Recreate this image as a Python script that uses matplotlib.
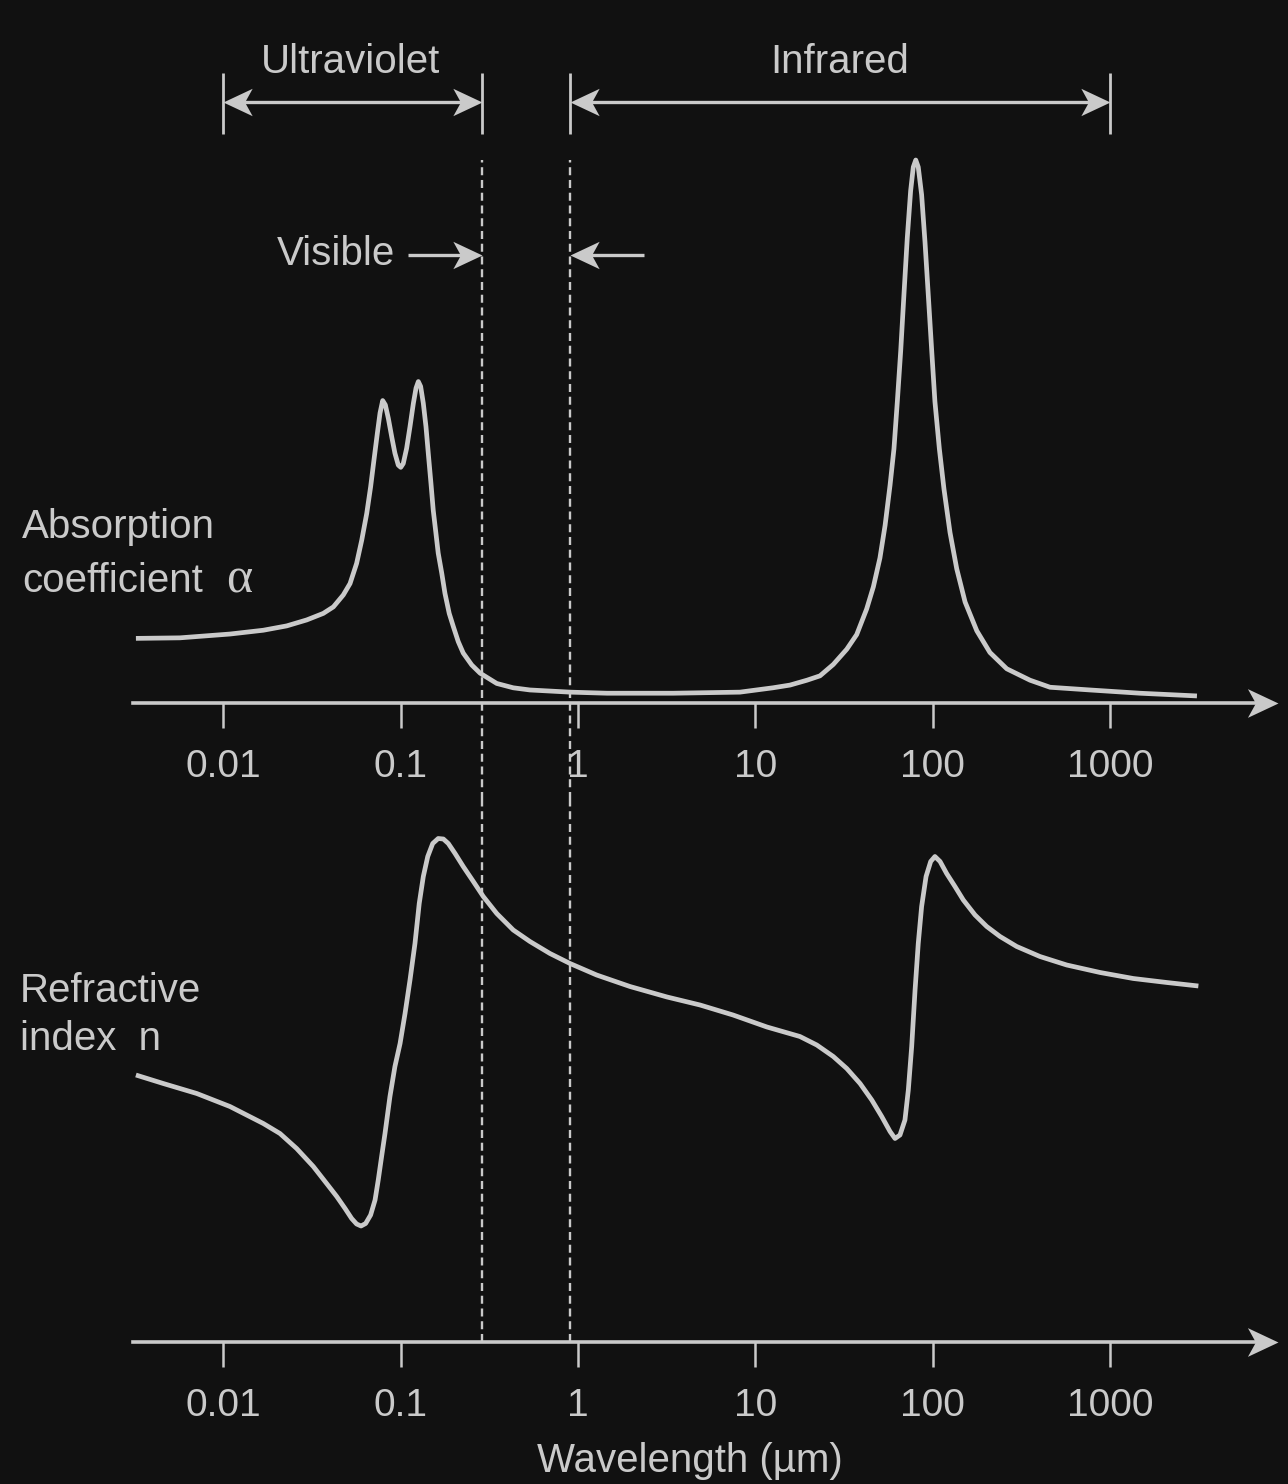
import matplotlib
matplotlib.use("Agg")
import numpy as np
import matplotlib.pyplot as plt
from matplotlib.path import Path
from matplotlib.ticker import FixedLocator, FixedFormatter, NullLocator

# absorption coefficient alpha (arbitrary units) vs log10(wavelength / um)
alpha_log_wavelength = [
    -2.492, -2.244, -1.962, -1.774, -1.642, -1.529, -1.436, -1.379, -1.323, -1.285,
    -1.248, -1.219, -1.191, -1.169, -1.150, -1.131, -1.116, -1.101, -1.086, -1.069,
    -1.050, -1.032, -1.013, -0.999, -0.985, -0.966, -0.947, -0.928, -0.913, -0.900,
    -0.887, -0.872, -0.857, -0.844, -0.829, -0.816, -0.801, -0.788, -0.768, -0.750,
    -0.726, -0.703, -0.675, -0.647, -0.599, -0.552, -0.458, -0.365, -0.271, -0.045,
    0.164, 0.536, 0.913, 1.099, 1.195, 1.291, 1.364, 1.439, 1.515, 1.571,
    1.627, 1.665, 1.702, 1.731, 1.759, 1.781, 1.800, 1.819, 1.838, 1.856,
    1.875, 1.890, 1.904, 1.918, 1.937, 1.956, 1.975, 1.994, 2.012, 2.037,
    2.063, 2.097, 2.135, 2.182, 2.248, 2.322, 2.417, 2.548, 2.661, 2.886,
    3.168, 3.489]
alpha_value = [
    0.119, 0.120, 0.127, 0.134, 0.142, 0.153, 0.165, 0.177, 0.199, 0.220,
    0.257, 0.300, 0.349, 0.398, 0.448, 0.497, 0.534, 0.557, 0.549, 0.524,
    0.490, 0.460, 0.438, 0.434, 0.441, 0.469, 0.509, 0.552, 0.580, 0.592,
    0.583, 0.552, 0.509, 0.460, 0.405, 0.355, 0.313, 0.276, 0.239, 0.202,
    0.165, 0.141, 0.113, 0.092, 0.070, 0.055, 0.036, 0.028, 0.024, 0.020,
    0.018, 0.018, 0.020, 0.028, 0.033, 0.042, 0.050, 0.071, 0.099, 0.126,
    0.173, 0.214, 0.267, 0.327, 0.401, 0.468, 0.555, 0.648, 0.756, 0.856,
    0.943, 0.987, 1.000, 0.987, 0.936, 0.849, 0.749, 0.648, 0.555, 0.468,
    0.394, 0.314, 0.247, 0.186, 0.133, 0.093, 0.063, 0.042, 0.029, 0.024,
    0.018, 0.013]

# refractive index n (arbitrary units) vs log10(wavelength / um)
n_log_wavelength = [
    -2.492, -2.338, -2.149, -1.962, -1.774, -1.680, -1.586, -1.492, -1.417, -1.360,
    -1.313, -1.276, -1.248, -1.223, -1.197, -1.169, -1.144, -1.126, -1.107, -1.088,
    -1.060, -1.032, -1.003, -0.975, -0.947, -0.919, -0.895, -0.872, -0.847, -0.819,
    -0.788, -0.759, -0.731, -0.693, -0.647, -0.590, -0.534, -0.458, -0.365, -0.271,
    -0.158, -0.045, 0.105, 0.293, 0.502, 0.688, 0.874, 1.065, 1.251, 1.346,
    1.439, 1.515, 1.590, 1.656, 1.712, 1.759, 1.787, 1.815, 1.843, 1.862,
    1.881, 1.900, 1.918, 1.937, 1.962, 1.988, 2.012, 2.041, 2.078, 2.125,
    2.172, 2.238, 2.304, 2.379, 2.473, 2.604, 2.755, 2.943, 3.130, 3.319,
    3.497]
n_value = [
    0.534, 0.517, 0.497, 0.471, 0.437, 0.417, 0.387, 0.351, 0.317, 0.291,
    0.267, 0.247, 0.236, 0.232, 0.237, 0.254, 0.284, 0.324, 0.371, 0.417,
    0.491, 0.551, 0.597, 0.657, 0.724, 0.797, 0.877, 0.931, 0.971, 0.997,
    1.007, 1.006, 0.997, 0.977, 0.951, 0.921, 0.891, 0.857, 0.824, 0.801,
    0.777, 0.757, 0.734, 0.711, 0.690, 0.674, 0.654, 0.630, 0.611, 0.594,
    0.571, 0.547, 0.517, 0.484, 0.451, 0.421, 0.407, 0.414, 0.444, 0.504,
    0.591, 0.704, 0.797, 0.871, 0.931, 0.961, 0.971, 0.961, 0.937, 0.911,
    0.884, 0.854, 0.831, 0.811, 0.791, 0.771, 0.754, 0.739, 0.727, 0.719,
    0.712]

tick_values = [0.01, 0.1, 1, 10, 100, 1000]
tick_labels = ["0.01", "0.1", "1", "10", "100", "1000"]

uv_range = (0.01, 0.287)
ir_range = (0.90, 1000)
visible_edges = (0.287, 0.90)

BG = "#111111"
FG = "#cacaca"
W, H = 1288, 1484
DECADE = 177.4    # pixels per decade
X_ONE = 578       # pixel column of 1 um

plt.rcParams["font.family"] = ["Liberation Sans", "DejaVu Sans"]


def lam(px):
    # pixel column -> wavelength
    return 10 ** ((px - X_ONE) / DECADE)


def shift(w, px):
    return w * 10 ** (px / DECADE)


HEAD_R = Path([(0, 0), (-1, 0.47), (-0.74, 0), (-1, -0.47), (0, 0)],
              [Path.MOVETO, Path.LINETO, Path.LINETO, Path.LINETO, Path.CLOSEPOLY])
HEAD_L = Path([(0, 0), (1, 0.47), (0.74, 0), (1, -0.47), (0, 0)],
              [Path.MOVETO, Path.LINETO, Path.LINETO, Path.LINETO, Path.CLOSEPOLY])


def head(ax, x, y, right=True, ms=42):
    ax.plot([x], [y], marker=HEAD_R if right else HEAD_L, ms=ms, color=FG,
            mew=0, clip_on=False, zorder=6)


def setup(ax, ylo, yhi):
    ax.set_facecolor("none")
    ax.set_xscale("log")
    ax.set_xlim(lam(0), lam(W))
    ax.set_ylim(ylo, yhi)
    for s in ["top", "right", "left"]:
        ax.spines[s].set_visible(False)
    ax.yaxis.set_visible(False)
    sp = ax.spines["bottom"]
    sp.set_position(("data", 0))
    sp.set_bounds(lam(133), lam(1262))
    sp.set_color(FG)
    sp.set_linewidth(2.6)
    ax.xaxis.set_major_locator(FixedLocator(tick_values))
    ax.xaxis.set_major_formatter(FixedFormatter(tick_labels))
    ax.xaxis.set_minor_locator(NullLocator())
    ax.tick_params(axis="x", direction="out", length=18, width=1.8, color=FG,
                   labelcolor=FG, labelsize=28, pad=15)
    head(ax, lam(1278), 0, right=True, ms=44)


fig = plt.figure(figsize=(W / 100, H / 100), dpi=100, facecolor=BG)

# top panel: pixel rows 0..800, alpha baseline at row 703, 543 px per unit
ax1 = fig.add_axes([0, 684 / H, 1, 800 / H])
setup(ax1, (703 - 800) / 543, 703 / 543)
# bottom panel: pixel rows 800..1484, n baseline at row 1342, 500 px per unit
ax2 = fig.add_axes([0, 0, 1, 684 / H])
setup(ax2, (1342 - 1484) / 500, (1342 - 800) / 500)

ax1.plot(10 ** np.array(alpha_log_wavelength), alpha_value, color=FG, lw=3.4,
         solid_joinstyle="round", solid_capstyle="butt", zorder=4)
ax2.plot(10 ** np.array(n_log_wavelength), n_value, color=FG, lw=3.4,
         solid_joinstyle="round", solid_capstyle="butt", zorder=4)

# visible band: dashed lines through both panels
dash = (0, (3.4, 2.0))
ax1.vlines(visible_edges, (703 - 800) / 543, 1.0, colors=FG, lw=1.7,
           linestyles=[dash], zorder=3)
ax2.vlines(visible_edges, 0, (1342 - 800) / 500, colors=FG, lw=1.7,
           linestyles=[dash], zorder=3)

# range arrows (Ultraviolet / Infrared)
y_rng = (703 - 102) / 543
bar_lo, bar_hi = (703 - 134) / 543, (703 - 73) / 543
for lo, hi in (uv_range, ir_range):
    ax1.plot([shift(lo, 10), shift(hi, -10)], [y_rng, y_rng], color=FG, lw=2.4,
             solid_capstyle="butt", clip_on=False)
    ax1.vlines([lo, hi], bar_lo, bar_hi, colors=FG, lw=2.0)
    head(ax1, lo, y_rng, right=False)
    head(ax1, hi, y_rng, right=True)

# visible arrows
y_vis = (703 - 255) / 543
ax1.plot([lam(408), shift(visible_edges[0], -10)], [y_vis, y_vis], color=FG, lw=2.4,
         solid_capstyle="butt")
head(ax1, visible_edges[0], y_vis, right=True)
ax1.plot([shift(visible_edges[1], 10), lam(644)], [y_vis, y_vis], color=FG, lw=2.4,
         solid_capstyle="butt")
head(ax1, visible_edges[1], y_vis, right=False)


def ftext(px, py, s, size=29, **kw):
    fig.text(px / W, 1 - py / H, s, color=FG, fontsize=size, va="baseline", **kw)


ftext(351, 73, "Ultraviolet", ha="center")
ftext(840, 73, "Infrared", ha="center")
ftext(277, 265, "Visible", ha="left")
ftext(22, 538, "Absorption", ha="left")
ftext(22, 592, "coefficient", ha="left")
ftext(226, 592, "\u03b1", size=36, ha="left", family=["Liberation Serif", "DejaVu Serif"])
ftext(20, 1002, "Refractive", ha="left")
ftext(20, 1050, "index  n", ha="left")
ftext(690, 1472, "Wavelength (\u00b5m)", ha="center")

fig.savefig("out.png", dpi=100, facecolor=BG)
